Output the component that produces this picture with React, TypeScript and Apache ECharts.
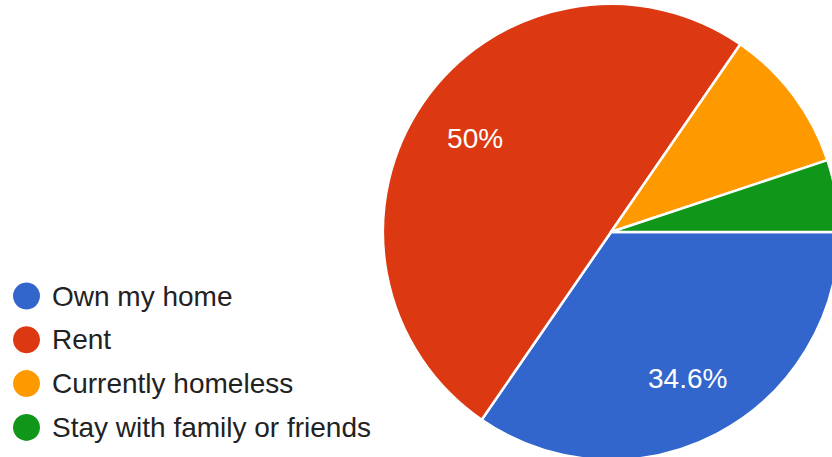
import React, { useEffect, useRef } from "react";
import * as echarts from "echarts";

const categories = ["Own my home", "Rent", "Currently homeless", "Stay with family or friends"];
const percents = [34.6, 50, 10.3, 5.1];
const colors = ["#3366cc", "#dc3912", "#ff9900", "#109618"];
const shownLabels = [true, true, false, false];

export default function App() {
  const ref = useRef<HTMLDivElement>(null);
  useEffect(() => {
    if (!ref.current) return;
    const chart = echarts.init(ref.current, undefined, { renderer: "svg" });
    const font = "Arial, 'Liberation Sans', sans-serif";
    const data = categories.map((name, i) => ({
      name,
      value: percents[i],
      itemStyle: { color: colors[i] },
    }));
    chart.setOption({
      animation: false,
      color: colors,
      legend: {
        orient: "vertical",
        left: 8,
        top: 277,
        height: 180,
        icon: "circle",
        itemWidth: 27,
        itemHeight: 27,
        itemGap: 15.8,
        selectedMode: false,
        itemStyle: { borderWidth: 0 },
        textStyle: { fontFamily: font, fontSize: 28, color: "#222222", lineHeight: 27, padding: [0, 0, 0, 7] },
        data: categories,
      },
      series: [
        {
          type: "pie",
          center: [611, 232],
          radius: [0, 228],
          startAngle: 0,
          clockwise: true,
          label: { show: false },
          labelLine: { show: false },
          emphasis: { disabled: true },
          itemStyle: { borderColor: "#ffffff", borderWidth: 2.5 },
          data,
        },
        {
          type: "pie",
          center: [611, 232],
          radius: [96, 228],
          startAngle: 0,
          clockwise: true,
          silent: true,
          legendHoverLink: false,
          itemStyle: { color: "rgba(0,0,0,0)", borderWidth: 0 },
          labelLine: { show: false },
          emphasis: { disabled: true },
          label: {
            show: true,
            position: "inside",
            color: "#ffffff",
            fontFamily: font,
            fontSize: 28,
            formatter: (p: any) => (shownLabels[p.dataIndex] ? `${p.value}%` : ""),
          },
          data: categories.map((name, i) => ({
            name: name + " ",
            value: percents[i],
            itemStyle: { color: "rgba(0,0,0,0)" },
          })),
        },
      ],
    });
    return () => chart.dispose();
  }, []);
  return (
    <div
      ref={ref}
      style={{ position: "fixed", left: 0, top: 0, width: 832, height: 457, background: "#ffffff" }}
    />
  );
}
